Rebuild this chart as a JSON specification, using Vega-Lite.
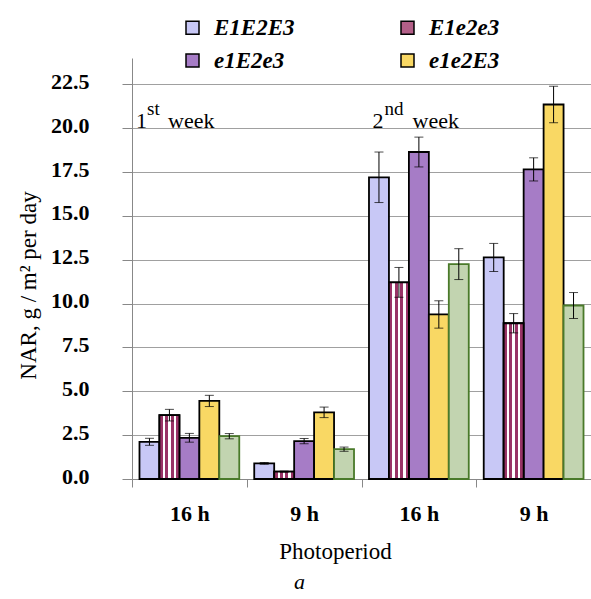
{
  "$schema": "https://vega.github.io/schema/vega-lite/v6.json",
  "width": 459,
  "height": 421,
  "autosize": "none",
  "padding": {"left": 132, "top": 58, "right": 0, "bottom": 120},
  "background": "white",
  "config": {"font": "Liberation Serif", "view": {"stroke": null}},
  "title": {"text": "a", "orient": "bottom", "anchor": "middle", "fontStyle": "italic", "fontWeight": "normal", "fontSize": 22, "font": "Liberation Serif", "color": "black", "offset": 9, "dx": -62},
  "datasets": {
    "bars": [
      {"grp": "1st week|16 h", "series": "E1E2E3", "nar": 2.12, "lo": 1.92, "hi": 2.32},
      {"grp": "1st week|16 h", "series": "E1e2e3", "nar": 3.64, "lo": 3.31, "hi": 3.97},
      {"grp": "1st week|16 h", "series": "e1E2e3", "nar": 2.35, "lo": 2.10, "hi": 2.60},
      {"grp": "1st week|16 h", "series": "e1e2E3", "nar": 4.45, "lo": 4.13, "hi": 4.77},
      {"grp": "1st week|16 h", "series": "e1e2e3", "nar": 2.44, "lo": 2.29, "hi": 2.59},
      {"grp": "1st week|9 h", "series": "E1E2E3", "nar": 0.89, "lo": 0.84, "hi": 0.94},
      {"grp": "1st week|9 h", "series": "E1e2e3", "nar": 0.42, "lo": 0.39, "hi": 0.45},
      {"grp": "1st week|9 h", "series": "e1E2e3", "nar": 2.16, "lo": 2.01, "hi": 2.31},
      {"grp": "1st week|9 h", "series": "e1e2E3", "nar": 3.80, "lo": 3.50, "hi": 4.10},
      {"grp": "1st week|9 h", "series": "e1e2e3", "nar": 1.70, "lo": 1.58, "hi": 1.82},
      {"grp": "2nd week|16 h", "series": "E1E2E3", "nar": 17.20, "lo": 15.76, "hi": 18.64},
      {"grp": "2nd week|16 h", "series": "E1e2e3", "nar": 11.21, "lo": 10.36, "hi": 12.06},
      {"grp": "2nd week|16 h", "series": "e1E2e3", "nar": 18.64, "lo": 17.79, "hi": 19.49},
      {"grp": "2nd week|16 h", "series": "e1e2E3", "nar": 9.38, "lo": 8.60, "hi": 10.16},
      {"grp": "2nd week|16 h", "series": "e1e2e3", "nar": 12.25, "lo": 11.37, "hi": 13.13},
      {"grp": "2nd week|9 h", "series": "E1E2E3", "nar": 12.63, "lo": 11.83, "hi": 13.43},
      {"grp": "2nd week|9 h", "series": "E1e2e3", "nar": 8.88, "lo": 8.33, "hi": 9.43},
      {"grp": "2nd week|9 h", "series": "e1E2e3", "nar": 17.65, "lo": 16.99, "hi": 18.31},
      {"grp": "2nd week|9 h", "series": "e1e2E3", "nar": 21.35, "lo": 20.31, "hi": 22.39},
      {"grp": "2nd week|9 h", "series": "e1e2e3", "nar": 9.89, "lo": 9.15, "hi": 10.63}
    ]
  },
  "layer": [
    {
      "data": {"name": "bars"},
      "mark": {"type": "bar", "strokeWidth": 1.8},
      "encoding": {
        "x": {
          "field": "grp", "type": "nominal",
          "scale": {"domain": ["1st week|16 h", "1st week|9 h", "2nd week|16 h", "2nd week|9 h"], "paddingInner": 0, "paddingOuter": 0},
          "axis": {
            "title": "Photoperiod", "labelExpr": "split(datum.value, '|')[1]", "labelAngle": 0,
            "labelFont": "Liberation Serif", "labelFontSize": 22, "labelFontWeight": "bold", "labelColor": "black", "labelPadding": 16,
            "tickBand": "extent", "tickSize": 8, "tickColor": "#888888", "domainColor": "#888888",
            "titleFont": "Liberation Serif", "titleFontSize": 23, "titleFontWeight": "normal", "titleColor": "black",
            "titleX": 203, "titleY": 72, "titleAlign": "center", "titleBaseline": "middle"
          }
        },
        "xOffset": {
          "field": "series", "type": "nominal",
          "scale": {"domain": ["E1E2E3", "E1e2e3", "e1E2e3", "e1e2E3", "e1e2e3"], "paddingInner": 0, "paddingOuter": 0.375}
        },
        "y": {
          "field": "nar", "type": "quantitative",
          "scale": {"domain": [0, 24], "nice": false},
          "axis": {
            "title": "NAR, g / m² per day", "values": [0, 2.5, 5, 7.5, 10, 12.5, 15, 17.5, 20, 22.5], "format": ".1f",
            "labelFont": "Liberation Serif", "labelFontSize": 22, "labelFontWeight": "bold", "labelColor": "black", "labelPadding": 33, "labelOffset": -3,
            "tickSize": 10, "tickColor": "#888888", "domainColor": "#888888",
            "grid": true, "gridColor": "#a0a0a0", "gridWidth": 1,
            "titleFont": "Liberation Serif", "titleFontSize": 23, "titleFontWeight": "normal", "titleColor": "black",
            "titleX": -104, "titleY": 227, "titleAlign": "center", "titleBaseline": "middle", "titleAngle": -90
          }
        },
        "color": {
          "field": "series", "type": "nominal",
          "scale": {
            "domain": ["E1E2E3", "E1e2e3", "e1E2e3", "e1e2E3", "e1e2e3"],
            "range": ["#c8c8f6", "#b35f88", "#a67cc6", "#f9d864", "#c2d4b0"]
          },
          "legend": {
            "values": ["E1E2E3", "E1e2e3", "e1E2e3", "e1e2E3"], "title": null, "orient": "none", "legendX": 49, "legendY": -42,
            "direction": "horizontal", "columns": 2, "gridAlign": "all", "columnPadding": 101, "rowPadding": 9, "padding": 0,
            "symbolType": "square", "symbolSize": 169, "symbolStrokeColor": "black", "symbolStrokeWidth": 1.5, "symbolOpacity": 1,
            "labelFont": "Liberation Serif", "labelFontSize": 23, "labelFontWeight": "bold", "labelFontStyle": "italic", "labelColor": "black", "labelOffset": 10, "labelLimit": 200
          }
        },
        "stroke": {"condition": {"test": "datum.series === 'e1e2e3'", "value": "#4a7a2a"}, "value": "black"}
      }
    },
    {
      "data": {"name": "bars"},
      "transform": [{"filter": "datum.series === 'E1e2e3'"}],
      "mark": {
        "type": "bar", "strokeWidth": 1.8, "stroke": "black",
        "fill": {"gradient": "linear", "x1": 0, "y1": 0, "x2": 1, "y2": 0, "stops": [
          {"offset": 0, "color": "#993366"}, {"offset": 0.17, "color": "#993366"},
          {"offset": 0.17, "color": "#ffffff"}, {"offset": 0.29, "color": "#ffffff"},
          {"offset": 0.29, "color": "#993366"}, {"offset": 0.44, "color": "#993366"},
          {"offset": 0.44, "color": "#ffffff"}, {"offset": 0.56, "color": "#ffffff"},
          {"offset": 0.56, "color": "#993366"}, {"offset": 0.71, "color": "#993366"},
          {"offset": 0.71, "color": "#ffffff"}, {"offset": 0.83, "color": "#ffffff"},
          {"offset": 0.83, "color": "#993366"}, {"offset": 1, "color": "#993366"}
        ]}
      },
      "encoding": {
        "x": {"field": "grp", "type": "nominal"},
        "xOffset": {"field": "series", "type": "nominal"},
        "y": {"field": "nar", "type": "quantitative"}
      }
    },
    {
      "data": {"name": "bars"},
      "mark": {"type": "rule", "color": "black", "strokeWidth": 1},
      "encoding": {
        "x": {"field": "grp", "type": "nominal"},
        "xOffset": {"field": "series", "type": "nominal"},
        "y": {"field": "lo", "type": "quantitative"},
        "y2": {"field": "hi"}
      }
    },
    {
      "data": {"name": "bars"},
      "mark": {"type": "tick", "color": "black", "thickness": 1, "size": 9},
      "encoding": {
        "x": {"field": "grp", "type": "nominal"},
        "xOffset": {"field": "series", "type": "nominal"},
        "y": {"field": "lo", "type": "quantitative"}
      }
    },
    {
      "data": {"name": "bars"},
      "mark": {"type": "tick", "color": "black", "thickness": 1, "size": 9},
      "encoding": {
        "x": {"field": "grp", "type": "nominal"},
        "xOffset": {"field": "series", "type": "nominal"},
        "y": {"field": "hi", "type": "quantitative"}
      }
    },
    {
      "data": {"values": [{"grp": "1st week|16 h", "v": 20, "t": "1"}]},
      "mark": {"type": "text", "align": "left", "baseline": "alphabetic", "fontSize": 22, "font": "Liberation Serif", "color": "black", "dx": 4},
      "encoding": {"x": {"field": "grp", "type": "nominal", "bandPosition": 0}, "y": {"field": "v", "type": "quantitative"}, "text": {"field": "t"}}
    },
    {
      "data": {"values": [{"grp": "1st week|16 h", "v": 20, "t": "st"}]},
      "mark": {"type": "text", "align": "left", "baseline": "alphabetic", "fontSize": 19, "font": "Liberation Serif", "color": "black", "dx": 15, "dy": -13},
      "encoding": {"x": {"field": "grp", "type": "nominal", "bandPosition": 0}, "y": {"field": "v", "type": "quantitative"}, "text": {"field": "t"}}
    },
    {
      "data": {"values": [{"grp": "1st week|16 h", "v": 20, "t": "week"}]},
      "mark": {"type": "text", "align": "left", "baseline": "alphabetic", "fontSize": 22, "font": "Liberation Serif", "color": "black", "dx": 36},
      "encoding": {"x": {"field": "grp", "type": "nominal", "bandPosition": 0}, "y": {"field": "v", "type": "quantitative"}, "text": {"field": "t"}}
    },
    {
      "data": {"values": [{"grp": "2nd week|16 h", "v": 20, "t": "2"}]},
      "mark": {"type": "text", "align": "left", "baseline": "alphabetic", "fontSize": 22, "font": "Liberation Serif", "color": "black", "dx": 11},
      "encoding": {"x": {"field": "grp", "type": "nominal", "bandPosition": 0}, "y": {"field": "v", "type": "quantitative"}, "text": {"field": "t"}}
    },
    {
      "data": {"values": [{"grp": "2nd week|16 h", "v": 20, "t": "nd"}]},
      "mark": {"type": "text", "align": "left", "baseline": "alphabetic", "fontSize": 19, "font": "Liberation Serif", "color": "black", "dx": 23, "dy": -13},
      "encoding": {"x": {"field": "grp", "type": "nominal", "bandPosition": 0}, "y": {"field": "v", "type": "quantitative"}, "text": {"field": "t"}}
    },
    {
      "data": {"values": [{"grp": "2nd week|16 h", "v": 20, "t": "week"}]},
      "mark": {"type": "text", "align": "left", "baseline": "alphabetic", "fontSize": 22, "font": "Liberation Serif", "color": "black", "dx": 51},
      "encoding": {"x": {"field": "grp", "type": "nominal", "bandPosition": 0}, "y": {"field": "v", "type": "quantitative"}, "text": {"field": "t"}}
    }
  ]
}
